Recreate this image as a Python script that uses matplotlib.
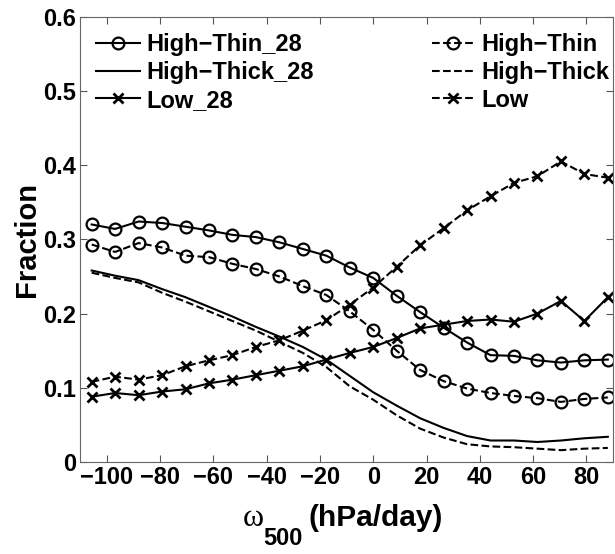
import matplotlib
matplotlib.use("Agg")
import matplotlib.pyplot as plt
import numpy as np

plt.rcParams["font.family"] = ["Liberation Sans", "DejaVu Sans"]

# omega_500 bin centres (hPa/day)
omega = [-105.6, -96.8, -88.0, -79.2, -70.4, -61.6, -52.8, -44.0, -35.2, -26.4, -17.6, -8.8,
         0.0, 8.8, 17.6, 26.4, 35.2, 44.0, 52.8, 61.6, 70.4, 79.2, 88.0]

high_thin_28 = [0.320, 0.314, 0.324, 0.322, 0.317, 0.312, 0.306, 0.303, 0.296, 0.287, 0.278, 0.262,
                0.248, 0.224, 0.202, 0.181, 0.161, 0.144, 0.143, 0.137, 0.134, 0.137, 0.138]
high_thick_28 = [0.258, 0.251, 0.245, 0.233, 0.222, 0.209, 0.196, 0.182, 0.169, 0.155, 0.138, 0.116,
                 0.094, 0.076, 0.059, 0.046, 0.035, 0.029, 0.029, 0.027, 0.029, 0.032, 0.034]
low_28 = [0.088, 0.093, 0.090, 0.095, 0.098, 0.106, 0.111, 0.117, 0.123, 0.129, 0.138, 0.147,
          0.155, 0.167, 0.180, 0.185, 0.190, 0.192, 0.189, 0.200, 0.217, 0.190, 0.222]

high_thin = [0.293, 0.283, 0.295, 0.289, 0.278, 0.276, 0.267, 0.260, 0.250, 0.237, 0.225, 0.203,
             0.178, 0.150, 0.124, 0.109, 0.099, 0.093, 0.089, 0.086, 0.081, 0.085, 0.087]
high_thick = [0.255, 0.248, 0.242, 0.228, 0.216, 0.203, 0.190, 0.177, 0.162, 0.147, 0.128, 0.102,
              0.084, 0.063, 0.045, 0.033, 0.024, 0.021, 0.020, 0.018, 0.016, 0.018, 0.019]
low = [0.108, 0.115, 0.111, 0.117, 0.129, 0.137, 0.144, 0.155, 0.164, 0.177, 0.191, 0.212,
       0.235, 0.263, 0.292, 0.315, 0.339, 0.358, 0.376, 0.385, 0.405, 0.388, 0.383]

xticks = [-100, -80, -60, -40, -20, 0, 20, 40, 60, 80]
yticks = [0, 0.1, 0.2, 0.3, 0.4, 0.5, 0.6]
ytick_labels = ["0", "0.1", "0.2", "0.3", "0.4", "0.5", "0.6"]

W, H = 615, 554
fig = plt.figure(figsize=(W / 100, H / 100), dpi=100)
ax = fig.add_axes([0.130, 0.166, 0.867, 0.804])

lw = 1.5
circ = dict(marker="o", markersize=8.5, markerfacecolor="none", markeredgewidth=1.6)
cross = dict(marker="x", markersize=6.5, markeredgewidth=2.0)

ax.plot(omega, high_thin_28, "-", color="k", lw=lw, label="High\u2212Thin_28", **circ)
ax.plot(omega, high_thick_28, "-", color="k", lw=lw, label="High\u2212Thick_28")
ax.plot(omega, low_28, "-", color="k", lw=lw, label="Low_28", **cross)
ax.plot(omega, high_thin, "--", color="k", lw=lw, label="High\u2212Thin", **circ)
ax.plot(omega, high_thick, "--", color="k", lw=lw, label="High\u2212Thick")
ax.plot(omega, low, "--", color="k", lw=lw, label="Low", **cross)

ax.set_xlim(-110, 90)
ax.set_ylim(0, 0.6)
ax.set_xticks(xticks)
ax.set_xticklabels([("\u2212%d" % -t) if t < 0 else "%d" % t for t in xticks])
ax.set_yticks(yticks)
ax.set_yticklabels(ytick_labels)

for lab in ax.get_xticklabels() + ax.get_yticklabels():
    lab.set_fontweight("bold")
    lab.set_fontsize(17)

ax.tick_params(direction="in", top=True, right=True, length=5, width=0.8,
               color="#555555", pad=3)
for s in ax.spines.values():
    s.set_color("#666666")
    s.set_linewidth(0.8)

ax.set_ylabel("Fraction", fontsize=21, fontweight="bold", labelpad=1)

# x label: omega (serif) + lowered bold subscript + bold units
fig.text(253 / W, 1 - 526 / H, "\u03c9", fontsize=23, family="Liberation Serif",
         ha="center", va="baseline")
fig.text(263 / W, 1 - 545 / H, "500", fontsize=17, fontweight="bold",
         ha="left", va="baseline")
fig.text(309 / W, 1 - 526 / H, "(hPa/day)", fontsize=21.5, fontweight="bold",
         ha="left", va="baseline")

ax.legend(loc="upper left", ncol=2, frameon=False,
          prop={"weight": "bold", "size": 17}, handlelength=1.85, handletextpad=0.25,
          columnspacing=5.0, labelspacing=0.2, borderaxespad=0.3,
          bbox_to_anchor=(0.0, 1.0))

fig.savefig("out.png", dpi=100)
